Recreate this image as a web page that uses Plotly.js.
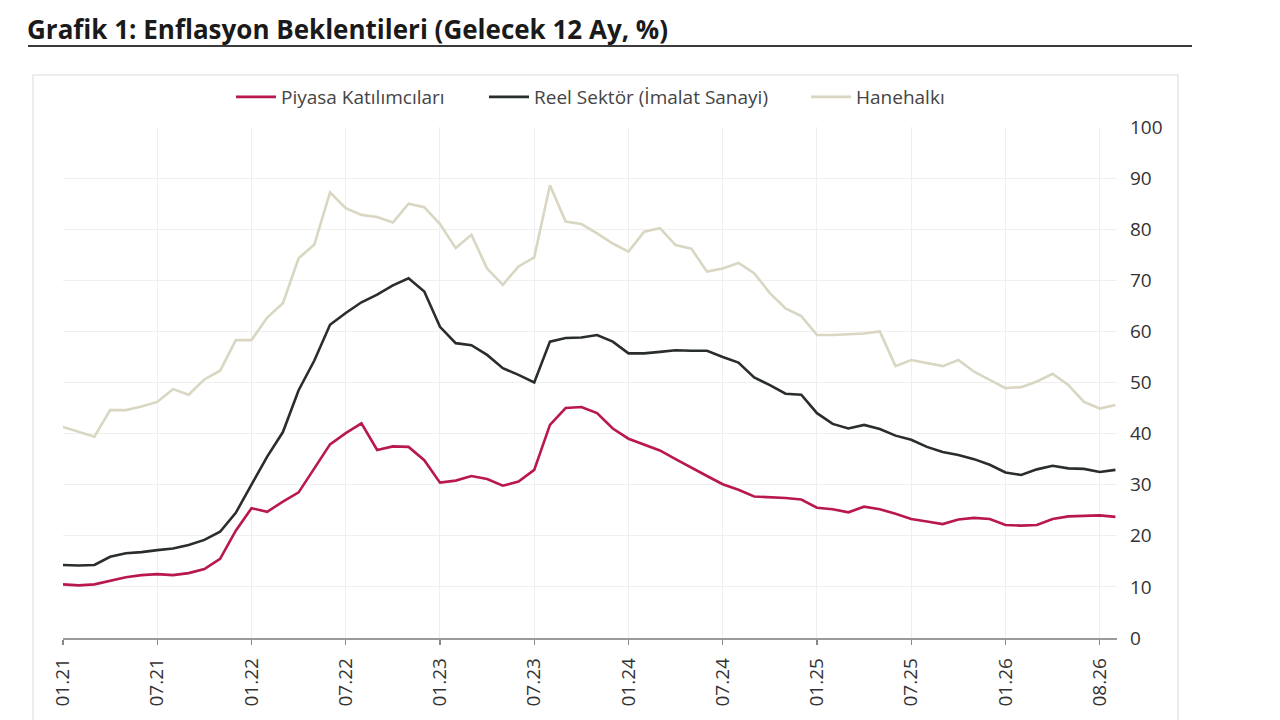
<!DOCTYPE html>
<html>
<head>
<meta charset="utf-8">
<script src="https://cdn.plot.ly/plotly-3.0.1.min.js"></script>
<style>
html,body{margin:0;padding:0;background:#fff;}
#chart{width:1280px;height:720px;}
</style>
</head>
<body>
<div id="chart"></div>
<script>
const tickLabels = ["01.21","07.21","01.22","07.22","01.23","07.23","01.24","07.24","01.25","07.25","01.26","08.26"];
const tickIndex = [0,6,12,18,24,30,36,42,48,54,60,66];

const piyasa = [10.5,10.3,10.5,11.2,11.9,12.3,12.5,12.3,12.7,13.5,15.5,21.0,25.4,24.7,26.7,28.5,33.2,37.9,40.1,42.0,
  36.8,37.5,37.4,34.8,30.4,30.8,31.7,31.1,29.8,30.6,32.9,41.7,45.0,45.2,44.0,41.0,39.0,37.8,36.7,35.0,
  33.3,31.7,30.1,29.0,27.7,27.6,27.4,27.1,25.5,25.2,24.6,25.7,25.2,24.3,23.3,22.8,22.3,23.2,23.5,23.3,
  22.1,22.0,22.1,23.3,23.8,23.9,24.0,23.7];

const reel = [14.3,14.2,14.3,15.9,16.6,16.8,17.2,17.5,18.2,19.2,20.8,24.5,30.0,35.5,40.3,48.5,54.3,61.3,63.6,65.7,
  67.2,69.0,70.4,67.8,60.9,57.7,57.3,55.4,52.8,51.5,50.0,58.0,58.7,58.8,59.3,58.0,55.7,55.7,56.0,56.3,
  56.2,56.2,55.0,53.9,51.0,49.5,47.8,47.6,44.0,41.9,41.0,41.7,40.9,39.6,38.8,37.4,36.4,35.8,35.0,33.9,
  32.4,31.9,33.0,33.7,33.2,33.1,32.5,32.9];

const hanehalki = [41.3,40.3,39.4,44.6,44.6,45.3,46.2,48.7,47.6,50.6,52.3,58.3,58.3,62.7,65.5,74.3,77.0,87.2,84.1,82.8,
  82.4,81.3,85.0,84.3,81.0,76.3,78.9,72.3,69.1,72.7,74.5,88.6,81.5,81.0,79.2,77.2,75.6,79.5,80.2,76.9,
  76.2,71.7,72.3,73.4,71.4,67.5,64.5,63.0,59.3,59.3,59.5,59.6,60.0,53.2,54.4,53.8,53.2,54.4,52.1,50.5,
  48.9,49.1,50.2,51.7,49.5,46.2,44.9,45.6];

const seriesNames = ["Piyasa Katılımcıları","Reel Sektör (İmalat Sanayi)","Hanehalkı"];
const seriesColors = ["#b8174f","#2a2d2d","#d9d6c2"];
const legendIds = ["legend","legend2","legend3"];

const idx = piyasa.map((_, i) => i);

const traces = [piyasa, reel, hanehalki].map((vals, k) => ({
  x: idx,
  y: vals,
  type: 'scatter',
  mode: 'lines',
  name: seriesNames[k],
  legend: legendIds[k],
  line: {color: seriesColors[k], width: 2.6},
  hoverinfo: 'skip'
}));

const W = 1054, H = 511, L = 63, T = 127;
const px = v => (v - L) / W;
const py = v => (T + H - v) / H;

function legendAt(xPix) {
  return {
    orientation: 'h',
    x: px(xPix), xanchor: 'left',
    y: py(97), yanchor: 'middle',
    font: {size: 19, color: '#444'},
    itemwidth: 40,
    bgcolor: 'rgba(0,0,0,0)'
  };
}

const layout = {
  width: 1280,
  height: 720,
  margin: {l: 63, r: 163, t: 127, b: 82},
  paper_bgcolor: '#fff',
  plot_bgcolor: '#fff',
  font: {family: '"Open Sans", sans-serif', color: '#333'},
  title: {
    text: '<b>Grafik 1: Enflasyon Beklentileri (Gelecek 12 Ay, %)</b>',
    font: {family: '"Open Sans", sans-serif', size: 26, color: '#1a1a1a'},
    xref: 'container', yref: 'container',
    x: 27/1280, xanchor: 'left',
    y: 1 - 30/720, yanchor: 'middle'
  },
  showlegend: true,
  legend: legendAt(231),
  legend2: legendAt(484),
  legend3: legendAt(806),
  xaxis: {
    range: [0, 67.1],
    tickmode: 'array',
    tickvals: tickIndex,
    ticktext: tickLabels,
    tickangle: -90,
    ticks: 'outside',
    ticklen: 5,
    tickcolor: '#888',
    tickwidth: 1.2,
    showline: true,
    linecolor: '#9a9a9a',
    linewidth: 1.5,
    showgrid: true,
    gridcolor: '#efefef',
    gridwidth: 1,
    zeroline: false,
    ticklabelstandoff: 6,
    tickfont: {size: 19, color: '#333'},
    fixedrange: true
  },
  yaxis: {
    side: 'right',
    range: [0, 100],
    dtick: 10,
    tick0: 0,
    showline: false,
    ticks: '',
    showgrid: true,
    gridcolor: '#efefef',
    gridwidth: 1,
    zeroline: false,
    ticklabelstandoff: 12,
    tickfont: {size: 19, color: '#333'},
    fixedrange: true
  },
  shapes: [
    {type: 'line', xref: 'paper', yref: 'paper',
     x0: px(28), x1: px(1192), y0: py(46), y1: py(46),
     line: {color: '#3a3a3a', width: 2.2}},
    {type: 'rect', xref: 'paper', yref: 'paper',
     x0: px(33), x1: px(1178), y0: py(740), y1: py(75),
     line: {color: '#e6e6e6', width: 1.5}, fillcolor: 'rgba(0,0,0,0)', layer: 'below'}
  ]
};

Plotly.newPlot('chart', traces, layout, {displayModeBar: false, staticPlot: true});
</script>
</body>
</html>
